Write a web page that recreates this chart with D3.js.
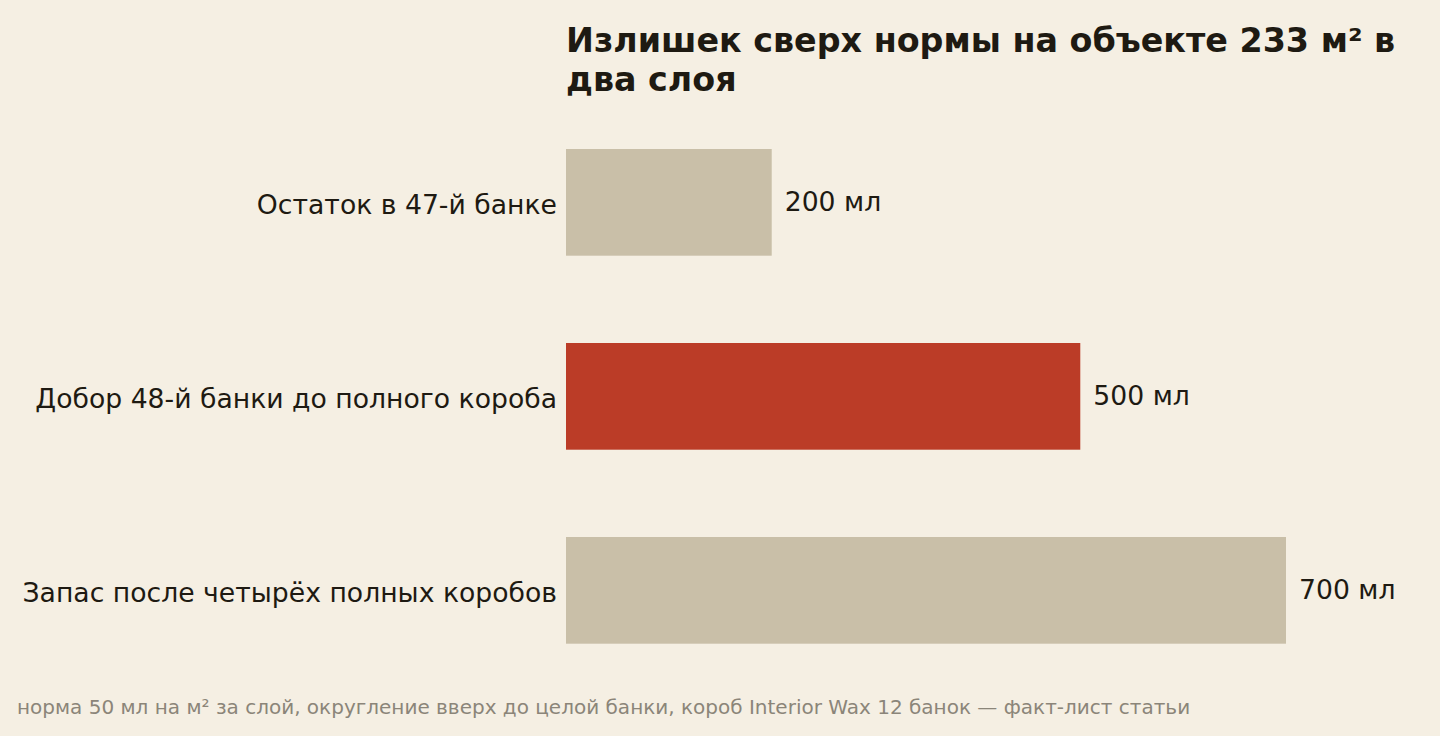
<!DOCTYPE html>
<html>
<head>
<meta charset="utf-8">
<script src="https://cdn.jsdelivr.net/npm/d3@7/dist/d3.min.js"></script>
<style>
  html, body { margin: 0; padding: 0; background: #f5efe3; }
  svg { display: block; font-family: "DejaVu Sans", sans-serif; }
</style>
</head>
<body>
<div id="chart"></div>
<script>
const categories = [
  'Остаток в 47-й банке',
  'Добор 48-й банки до полного короба',
  'Запас после четырёх полных коробов',
];
const values = [200, 500, 700];
const barColors = ['#c9bfa8', '#bb3c27', '#c9bfa8'];
const titleLines = ['Излишек сверх нормы на объекте 233 м² в', 'два слоя'];
const footnote = 'норма 50 мл на м² за слой, округление вверх до целой банки, короб Interior Wax 12 банок — факт-лист статьи';

const W = 1440, H = 736;
const left = 566, right = 1286;

const svg = d3.select('#chart')
  .append('svg')
  .attr('width', W)
  .attr('height', H);

svg.append('rect').attr('width', W).attr('height', H).attr('fill', '#f5efe3');

// Scales
const x = d3.scaleLinear().domain([0, 700]).range([left, right]);
const y = d3.scaleBand()
  .domain(categories)
  .range([105.35, 687.35])
  .paddingInner(0.45)
  .paddingOuter(0.225);

// Title
svg.append('text')
  .attr('x', left)
  .attr('y', 52)
  .attr('fill', '#1e1a12')
  .attr('font-size', '33.33px')
  .attr('font-weight', 'bold')
  .selectAll('tspan')
  .data(titleLines)
  .join('tspan')
  .attr('x', left)
  .attr('dy', (d, i) => i ? 38.5 : 0)
  .text(d => d);

// Bars
svg.selectAll('.bar')
  .data(values)
  .join('rect')
  .attr('class', 'bar')
  .attr('x', x(0))
  .attr('y', (d, i) => y(categories[i]))
  .attr('width', d => x(d) - x(0))
  .attr('height', y.bandwidth())
  .attr('fill', (d, i) => barColors[i]);

// Category labels
svg.selectAll('.cat')
  .data(categories)
  .join('text')
  .attr('class', 'cat')
  .attr('x', left - 9)
  .attr('y', d => y(d) + y.bandwidth() / 2)
  .attr('dy', '0.42em')
  .attr('text-anchor', 'end')
  .attr('fill', '#1e1a12')
  .attr('font-size', '26.67px')
  .text(d => d);

// Value labels
svg.selectAll('.val')
  .data(values)
  .join('text')
  .attr('class', 'val')
  .attr('x', d => x(d) + 13)
  .attr('y', (d, i) => y(categories[i]) + y.bandwidth() / 2)
  .attr('dy', '0.32em')
  .attr('fill', '#1e1a12')
  .attr('font-size', '26.67px')
  .text(d => `${d} мл`);

// Footnote
svg.append('text')
  .attr('x', 17)
  .attr('y', 714)
  .attr('fill', '#8b8579')
  .attr('font-size', '20px')
  .text(footnote);
</script>
</body>
</html>
